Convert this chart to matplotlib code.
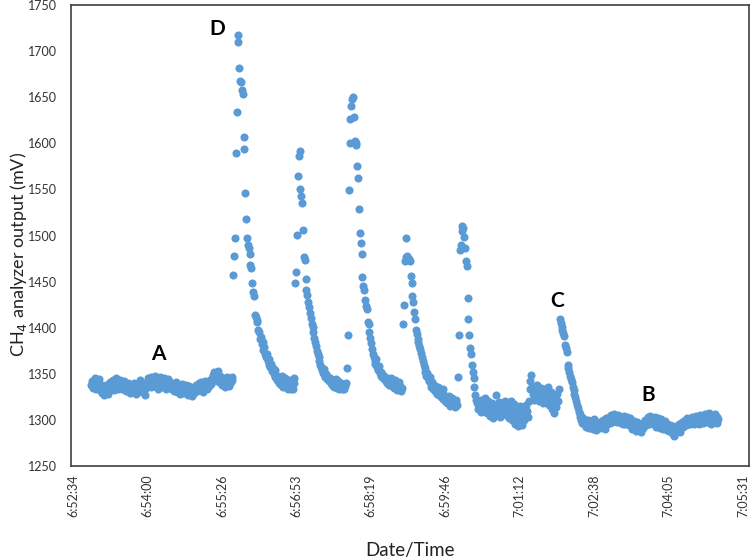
import matplotlib
matplotlib.use("Agg")
import matplotlib.pyplot as plt
from matplotlib.ticker import FixedLocator, FuncFormatter
import numpy as np

# Excel-style time axis: fraction of a day
axis_start_day = 0.2865          # 6:52:34
t_first_s = 21                   # first sample, seconds after axis start
sample_step_s = 1                # analyzer logs once per second

# CH4 analyzer output (mV), one value per second
ch4_mv = [
    # baseline A
    1338, 1342, 1335, 1340, 1345, 1337, 1333, 1341, 1336, 1344,
    1339, 1331, 1336, 1329, 1334, 1327, 1332, 1338, 1330, 1335,
    1328, 1336, 1341, 1334, 1339, 1343, 1337, 1332, 1340, 1345,
    1338, 1334, 1341, 1336, 1343, 1339, 1333, 1337, 1342, 1335,
    1331, 1338, 1334, 1340, 1336, 1329, 1333, 1338, 1331, 1336,
    1340, 1334, 1328, 1335, 1339, 1332, 1337, 1343, 1336, 1330,
    1334, 1339, 1333, 1327, 1336, 1341, 1345, 1338, 1342, 1336,
    1347, 1340, 1344, 1337, 1348, 1342, 1339, 1345, 1333, 1341,
    1346, 1340, 1336, 1343, 1338, 1345, 1341, 1334, 1339, 1344,
    1337, 1342, 1335, 1340, 1333, 1338, 1331, 1336, 1341, 1334,
    1330, 1337, 1333, 1328, 1335, 1339, 1332, 1336, 1329, 1334,
    1338, 1331, 1327, 1333, 1337, 1330, 1335, 1326, 1332, 1336,
    1329, 1334, 1338, 1331, 1336, 1340, 1333, 1337, 1341, 1335,
    1330, 1338, 1342, 1336, 1339, 1334, 1341, 1337, 1343, 1339,
    1345, 1349, 1342, 1352, 1347, 1351, 1344, 1353, 1346, 1341,
    1348, 1343, 1338, 1345, 1341, 1336, 1343, 1339, 1346, 1340,
    1337, 1344, 1341, 1347, 1343,
    # peak D
    1457, 1478, 1497, 1590, 1634, 1717, 1710, 1682, 1668, 1667,
    1658, 1653, 1607, 1594, 1546, 1518, 1497, 1490, 1486, 1480,
    1468, 1465, 1449, 1439, 1434, 1414, 1412, 1406, 1408, 1398,
    1395, 1388, 1390, 1382, 1384, 1376, 1379, 1371, 1368, 1372,
    1364, 1360, 1366, 1357, 1361, 1353, 1356, 1350, 1354, 1346,
    1349, 1343, 1347, 1340, 1345, 1338, 1342, 1348, 1336, 1341,
    1345, 1337, 1340, 1334, 1339, 1343, 1336, 1333, 1338, 1334,
    # second peak
    1340, 1345, 1449, 1460, 1501, 1565, 1586, 1592, 1550, 1543,
    1535, 1506, 1477, 1473, 1453, 1441, 1435, 1428, 1422, 1416,
    1410, 1404, 1401, 1395, 1389, 1385, 1380, 1375, 1371, 1368,
    1364, 1360, 1357, 1354, 1351, 1355, 1348, 1346, 1350, 1344,
    1347, 1342, 1345, 1340, 1343, 1338, 1341, 1336, 1339, 1344,
    1335, 1338, 1342, 1334, 1337, 1340, 1333, 1336, 1339, 1334, 1337,
    # third peak
    1340, 1356, 1392, 1549, 1600, 1626, 1640, 1648, 1650, 1628,
    1603, 1600, 1598, 1575, 1562, 1529, 1503, 1492, 1480, 1455,
    1445, 1441, 1430, 1423, 1420, 1406, 1404, 1395, 1389, 1383,
    1377, 1372, 1368, 1364, 1361, 1366, 1357, 1354, 1358, 1351,
    1348, 1352, 1346, 1349, 1344, 1347, 1342, 1345, 1340, 1343,
    1338, 1341, 1345, 1337, 1340, 1335, 1339, 1343, 1336, 1332,
    1338, 1341, 1334, 1337, 1331, 1335,
    # fourth peak
    1404, 1425, 1472, 1477, 1497, 1478, 1476, 1474, 1472, 1456,
    1449, 1434, 1428, 1417, 1409, 1398, 1393, 1388, 1385, 1380,
    1377, 1373, 1368, 1364, 1360, 1356, 1352, 1348, 1351, 1345,
    1342, 1346, 1339, 1336, 1341, 1334, 1338, 1331, 1335, 1328,
    1332, 1336, 1327, 1331, 1325, 1329, 1333, 1323, 1327, 1320,
    1324, 1318, 1322, 1326, 1319, 1315, 1321, 1324, 1317, 1320,
    1314, 1318, 1322, 1316,
    # fifth peak
    1346, 1392, 1484, 1490, 1505, 1510, 1508, 1498, 1486, 1472,
    1467, 1432, 1409, 1392, 1378, 1372, 1360, 1352, 1345, 1336,
    1327, 1322,
    # plateau
    1318, 1312, 1320, 1315, 1309, 1322, 1316, 1311, 1318, 1324,
    1313, 1307, 1315, 1320, 1310, 1304, 1312, 1318, 1308, 1302,
    1310, 1316, 1327, 1306, 1312, 1319, 1309, 1303, 1311, 1316,
    1307, 1313, 1320, 1305, 1311, 1317, 1308, 1302, 1314, 1320,
    1306, 1300, 1311, 1317, 1296, 1304, 1310, 1293, 1301, 1308,
    1315, 1298, 1294, 1305, 1312, 1300, 1307, 1316, 1310, 1303,
    1320, 1333, 1342, 1349, 1336, 1328, 1322, 1331, 1325, 1334,
    1338, 1327, 1321, 1330, 1335, 1324, 1318, 1329, 1333, 1326,
    1320, 1331, 1336, 1323, 1316, 1327, 1330, 1312, 1322, 1307,
    1318, 1325, 1314, 1328, 1321, 1333,
    # peak C
    1409, 1405, 1401, 1398, 1394, 1391, 1381, 1378, 1374, 1360,
    1356, 1352, 1348, 1344, 1341, 1336, 1332, 1328, 1325, 1320,
    1316, 1313, 1309, 1306, 1303, 1300,
    # baseline B
    1297, 1302, 1295, 1299, 1292, 1298, 1294, 1300, 1291, 1296,
    1293, 1299, 1290, 1295, 1301, 1294, 1289, 1297, 1292, 1298,
    1295, 1291, 1298, 1293, 1300, 1296, 1290, 1297, 1302, 1295,
    1299, 1303, 1297, 1301, 1305, 1298, 1303, 1306, 1300, 1304,
    1298, 1302, 1305, 1299, 1303, 1297, 1301, 1295, 1299, 1304,
    1296, 1300, 1303, 1297, 1294, 1299, 1302, 1296, 1290, 1295,
    1299, 1293, 1288, 1294, 1298, 1292, 1296, 1290, 1287, 1293,
    1297, 1291, 1295, 1300, 1294, 1298, 1303, 1296, 1300, 1304,
    1297, 1301, 1295, 1299, 1303, 1296, 1292, 1298, 1302, 1295,
    1291, 1297, 1301, 1294, 1290, 1296, 1299, 1293, 1289, 1295,
    1292, 1288, 1294, 1290, 1286, 1293, 1289, 1283, 1291, 1287,
    1293, 1289, 1296, 1291, 1287, 1294, 1298, 1292, 1296, 1300,
    1294, 1298, 1302, 1296, 1300, 1295, 1299, 1303, 1297, 1301,
    1295, 1299, 1304, 1298, 1302, 1296, 1300, 1305, 1299, 1303,
    1297, 1301, 1306, 1300, 1304, 1298, 1302, 1307, 1301, 1296,
    1300, 1304, 1298, 1302, 1306, 1299, 1303, 1297, 1301,
]

x_ticks_day = [0.2865, 0.2875, 0.2885, 0.2895, 0.2905,
               0.2915, 0.2925, 0.2935, 0.2945, 0.2955]
y_ticks = [1250, 1300, 1350, 1400, 1450, 1500, 1550, 1600, 1650, 1700, 1750]

# letter labels for the phases
phase_labels = ["A", "D", "C", "B"]
phase_sec = [99, 167, 562, 668]
phase_mv = [1371, 1724, 1429, 1327]


def day_to_hms(x, pos=None):
    sec = int(round(x * 86400))
    return f"{sec // 3600}:{sec % 3600 // 60:02d}:{sec % 60:02d}"


plt.rcParams['font.family'] = ['Lato', 'DejaVu Sans']

fig = plt.figure(figsize=(7.52, 5.58), dpi=100)
ax = fig.add_axes([0.0944, 0.1649, 0.9016, 0.8261])

t_day = axis_start_day + (t_first_s + sample_step_s * np.arange(len(ch4_mv))) / 86400.0
ax.scatter(t_day, ch4_mv, s=34, color='#5B9BD5', linewidths=0, zorder=3)

for lab, sec, mv in zip(phase_labels, phase_sec, phase_mv):
    ax.text(axis_start_day + sec / 86400.0, mv, lab, fontsize=15, fontweight='bold',
            ha='center', va='center', color='black')

ax.set_xlim(0.286473, 0.295581)
ax.set_ylim(1250, 1750)
ax.xaxis.set_major_locator(FixedLocator(x_ticks_day))
ax.xaxis.set_major_formatter(FuncFormatter(day_to_hms))
ax.set_yticks(y_ticks)
ax.tick_params(axis='both', length=0, labelsize=9, labelcolor='#333333')
ax.tick_params(axis='x', rotation=90, pad=6)
ax.tick_params(axis='y', pad=10)

for sp in ax.spines.values():
    sp.set_color('#404040')
    sp.set_linewidth(1.2)

ax.set_xlabel('Date/Time', fontsize=13.5, color='#222222', labelpad=18)
ax.set_ylabel('CH$_4$ analyzer output (mV)', fontsize=13, color='#222222')
ax.yaxis.set_label_coords(-0.062, 0.458)

fig.savefig('out.png', dpi=100)
